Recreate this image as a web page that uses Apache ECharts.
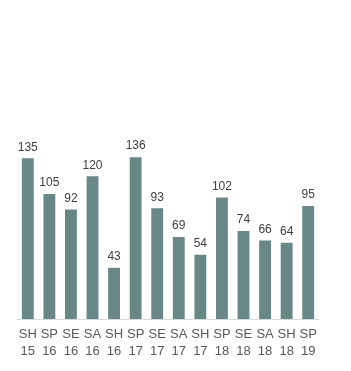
<!DOCTYPE html>
<html>
<head>
<meta charset="utf-8">
<script src="https://cdn.jsdelivr.net/npm/echarts@6/dist/echarts.min.js"></script>
<style>
html,body{margin:0;padding:0;background:#fff;}
#main{width:351px;height:371px;}
</style>
</head>
<body>
<div id="main"></div>
<script>
var categories = ['SH\n15','SP\n16','SE\n16','SA\n16','SH\n16','SP\n17','SE\n17','SA\n17','SH\n17','SP\n18','SE\n18','SA\n18','SH\n18','SP\n19'];
var values = [135,105,92,120,43,136,93,69,54,102,74,66,64,95];

var myChart = echarts.init(document.getElementById('main'));
var option = {
    backgroundColor: '#FFFFFF',
    animation: false,
    grid: {
        top: 81,
        left: 17,
        right: 32,
        bottom: 52
    },
    xAxis: {
        type: 'category',
        data: categories,
        axisLine: {lineStyle: {color: '#d9d9d9'}},
        axisTick: {show: false},
        axisLabel: {
            interval: 0,
            color: '#595959',
            fontFamily: 'Liberation Sans',
            fontSize: 13,
            lineHeight: 17,
            margin: 7
        }
    },
    yAxis: {
        type: 'value',
        min: 0,
        max: 200,
        show: false
    },
    series: [
        {
            type: 'bar',
            data: values,
            barWidth: '55%',
            itemStyle: {color: '#688787'},
            label: {
                show: true,
                position: 'top',
                color: '#404040',
                fontFamily: 'Liberation Sans',
                fontSize: 12
            }
        }
    ]
};
myChart.setOption(option);
</script>
</body>
</html>
